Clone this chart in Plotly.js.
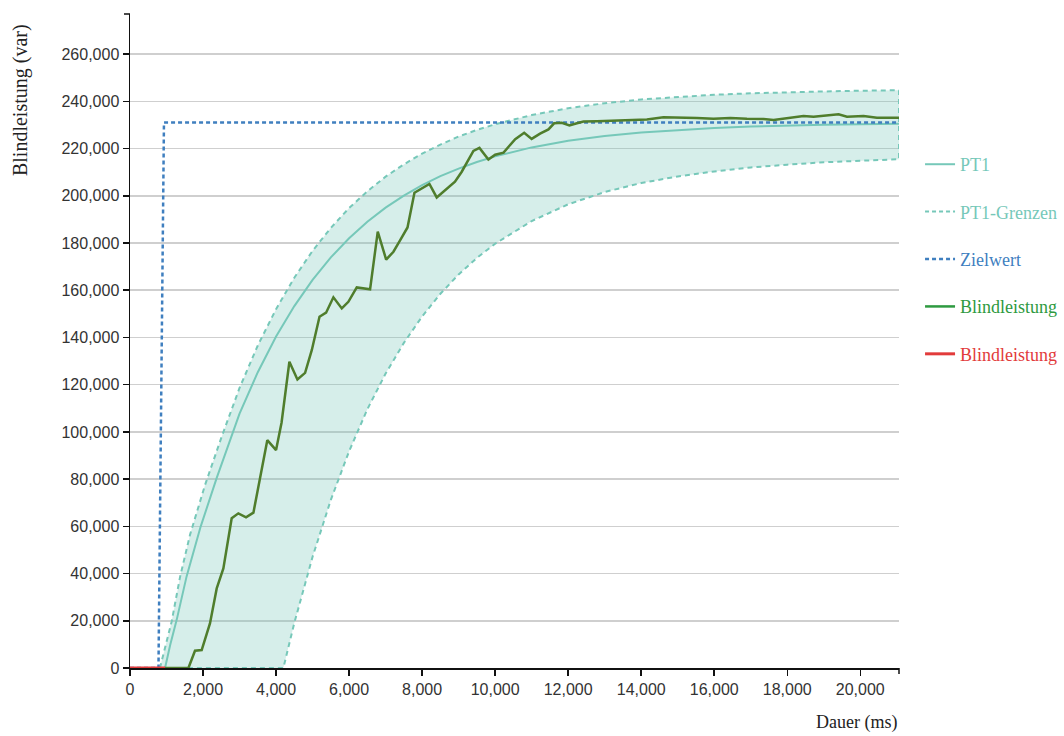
<!DOCTYPE html>
<html>
<head>
<meta charset="utf-8">
<script src="https://cdn.plot.ly/plotly-3.0.1.min.js"></script>
<style>html,body{margin:0;padding:0;background:#fff;}#chart{width:1064px;height:736px;}</style>
</head>
<body>
<div id="chart"></div>
<script>
// PT1 model curve (ms, var)
const pt1X = [960, 1100, 1280, 1550, 1935, 2375, 3000, 3500, 4000, 4500, 5000, 5500, 6000, 6500, 7000, 7500, 8000, 8500, 9000, 9500, 10000, 11000, 12000, 13000, 14000, 15000, 16000, 17000, 18000, 19000, 20000, 21060];
const pt1Y = [0, 9700, 20500, 38800, 59900, 80500, 107700, 125300, 140400, 153300, 164400, 173900, 182000, 189000, 195000, 200100, 204500, 208300, 211500, 214300, 216700, 220500, 223300, 225300, 226800, 227900, 228700, 229300, 229800, 230100, 230300, 230500];

// PT1 limits (upper / lower)
const upX = [820, 1000, 1140, 1370, 1645, 2055, 2500, 3000, 3500, 4000, 4500, 5000, 5500, 6000, 6500, 7000, 7500, 8000, 8500, 9000, 9500, 10000, 11000, 12000, 13000, 14000, 15000, 16000, 17000, 18000, 19000, 20000, 21060];
const upY = [0, 11000, 19600, 38500, 56500, 77500, 97500, 118600, 136600, 152000, 165300, 176700, 186400, 194800, 201900, 208100, 213300, 217900, 221700, 225100, 227900, 230300, 234200, 237100, 239200, 240800, 241900, 242800, 243400, 243900, 244200, 244500, 244700];
const loX = [820, 4200, 4500, 5000, 5500, 6000, 6500, 7000, 7500, 8000, 8500, 9000, 9500, 10000, 11000, 12000, 13000, 14000, 15000, 16000, 17000, 18000, 19000, 20000, 21060];
const loY = [0, 0, 19100, 47100, 71200, 91800, 109600, 124700, 137700, 148900, 158500, 166700, 173700, 179700, 189300, 196400, 201600, 205400, 208200, 210300, 212000, 213200, 214200, 214900, 215500];

// Zielwert (target)
const zielX = [0, 780, 930, 21060];
const zielY = [0, 0, 231000, 231000];

// Blindleistung before step (red)
const redX = [0, 960];
const redY = [0, 0];

// Blindleistung measured (green)
const gX = [960, 1600, 1780, 1963, 2190, 2375, 2557, 2785, 2967, 3178, 3380, 3560, 3760, 4000, 4150, 4365, 4585, 4795, 4980, 5190, 5370, 5570, 5800, 5980, 6210, 6575, 6785, 7015, 7215, 7400, 7600, 7790, 8200, 8400, 8675, 8900, 9085, 9405, 9570, 9815, 10000, 10230, 10550, 10795, 11000, 11230, 11460, 11615, 11825, 12035, 12240, 12420, 12785, 13240, 13700, 14155, 14610, 15070, 15525, 15980, 16440, 16895, 17350, 17625, 17990, 18445, 18720, 18995, 19405, 19635, 20090, 20455, 21060];
const gY = [0, 0, 7300, 7600, 18900, 33700, 42200, 63400, 65500, 63800, 65800, 81000, 96500, 92300, 103900, 129700, 122200, 125000, 134700, 148800, 150500, 157000, 152300, 155100, 161200, 160400, 184800, 173000, 176300, 181200, 186600, 201300, 205000, 199300, 203100, 206000, 210200, 219000, 220300, 215400, 217400, 218300, 224000, 226700, 224100, 226300, 228100, 230700, 230900, 229800, 230700, 231500, 231600, 231900, 232100, 232300, 233300, 233200, 232900, 232600, 232900, 232600, 232500, 232100, 232900, 233800, 233500, 233900, 234500, 233500, 233800, 233100, 233100];

const xTicks = [0, 2000, 4000, 6000, 8000, 10000, 12000, 14000, 16000, 18000, 20000];
const yTicks = [0, 20000, 40000, 60000, 80000, 100000, 120000, 140000, 160000, 180000, 200000, 220000, 240000, 260000];

const C_PT1 = '#76c8b9';
const C_BLUE = '#3f7fbf';
const C_GREEN_LINE = '#4f7d2c';
const C_GREEN = '#2e9a40';
const C_RED = '#e23b3b';

const bandX = upX.concat(loX.slice().reverse());
const bandY = upY.concat(loY.slice().reverse());

const span = (c, t) => '<span style="color:' + c + '">' + t + '</span>';

const traces = [
  {x: bandX, y: bandY, mode: 'lines', fill: 'toself', fillcolor: 'rgba(118,200,185,0.30)',
   line: {color: C_PT1, width: 2, dash: '5px,4px'}, name: 'PT1-Grenzen',
   showlegend: false, legendgroup: 'g2', hoverinfo: 'skip'},
  {x: pt1X, y: pt1Y, mode: 'lines', line: {color: C_PT1, width: 2}, name: span(C_PT1, 'PT1'),
   legendgroup: 'g1', legendrank: 1},
  {x: [null], y: [null], mode: 'lines', line: {color: C_PT1, width: 2, dash: '4px,3px'},
   name: span(C_PT1, 'PT1-Grenzen'), legendgroup: 'g2', legendrank: 2},
  {x: zielX, y: zielY, mode: 'lines', line: {color: C_BLUE, width: 2.5, dash: '4px,3px'},
   name: span(C_BLUE, 'Zielwert'), legendgroup: 'g3', legendrank: 3},
  {x: gX, y: gY, mode: 'lines', line: {color: C_GREEN_LINE, width: 2.5}, showlegend: false,
   name: 'Blindleistung', legendgroup: 'g4'},
  {x: [null], y: [null], mode: 'lines', line: {color: C_GREEN, width: 2.5},
   name: span(C_GREEN, 'Blindleistung'), legendgroup: 'g4', legendrank: 4},
  {x: redX, y: redY, mode: 'lines', line: {color: C_RED, width: 3},
   name: span(C_RED, 'Blindleistung'), legendgroup: 'g5', legendrank: 5}
];

const axisFont = {family: 'Liberation Sans, Arial, sans-serif', size: 16, color: '#333'};

const layout = {
  width: 1064, height: 736,
  margin: {l: 130, r: 165, t: 14, b: 68, pad: 0, autoexpand: false},
  paper_bgcolor: '#fff', plot_bgcolor: '#fff',
  showlegend: true,
  legend: {xref: 'container', yref: 'container', x: 0.8647, xanchor: 'left', y: 0.8016, yanchor: 'top',
           traceorder: 'grouped',
           font: {family: 'Liberation Serif, Times New Roman, serif', size: 18},
           tracegroupgap: 21, bgcolor: 'rgba(0,0,0,0)', borderwidth: 0},
  xaxis: {range: [0, 21060], tickvals: xTicks, tickformat: ',d', showgrid: false, zeroline: false,
          showline: true, linecolor: '#111', linewidth: 1.5, ticks: 'outside', ticklen: 6,
          tickwidth: 1.5, tickcolor: '#111', tickfont: axisFont, fixedrange: true},
  yaxis: {range: [0, 277000], tickvals: yTicks, tickformat: ',d', showgrid: true,
          gridcolor: '#cfcfcf', gridwidth: 1.5, zeroline: false,
          showline: true, linecolor: '#111', linewidth: 1.5, ticks: 'outside', ticklen: 6,
          tickwidth: 1.5, tickcolor: '#111', tickfont: axisFont, fixedrange: true},
  shapes: [
    {type: 'line', xref: 'paper', yref: 'paper', xsizemode: 'pixel', xanchor: 0, x0: -6, x1: 0, y0: 1, y1: 1,
     line: {color: '#111', width: 1.5}},
    {type: 'line', xref: 'paper', yref: 'paper', ysizemode: 'pixel', yanchor: 0, x0: 1, x1: 1, y0: -6, y1: 0,
     line: {color: '#111', width: 1.5}}
  ],
  annotations: [
    {text: 'Blindleistung (var)', xref: 'paper', yref: 'paper', x: -0.143, y: 0.8685,
     xanchor: 'center', yanchor: 'middle', textangle: -90, showarrow: false,
     font: {family: 'Liberation Serif, Times New Roman, serif', size: 20, color: '#222'}},
    {text: 'Dauer (ms)', xref: 'paper', yref: 'paper', x: 1, y: -0.084,
     xanchor: 'right', yanchor: 'middle', showarrow: false,
     font: {family: 'Liberation Serif, Times New Roman, serif', size: 18, color: '#222'}}
  ]
};

Plotly.newPlot('chart', traces, layout, {displayModeBar: false, staticPlot: true});
</script>
</body>
</html>
